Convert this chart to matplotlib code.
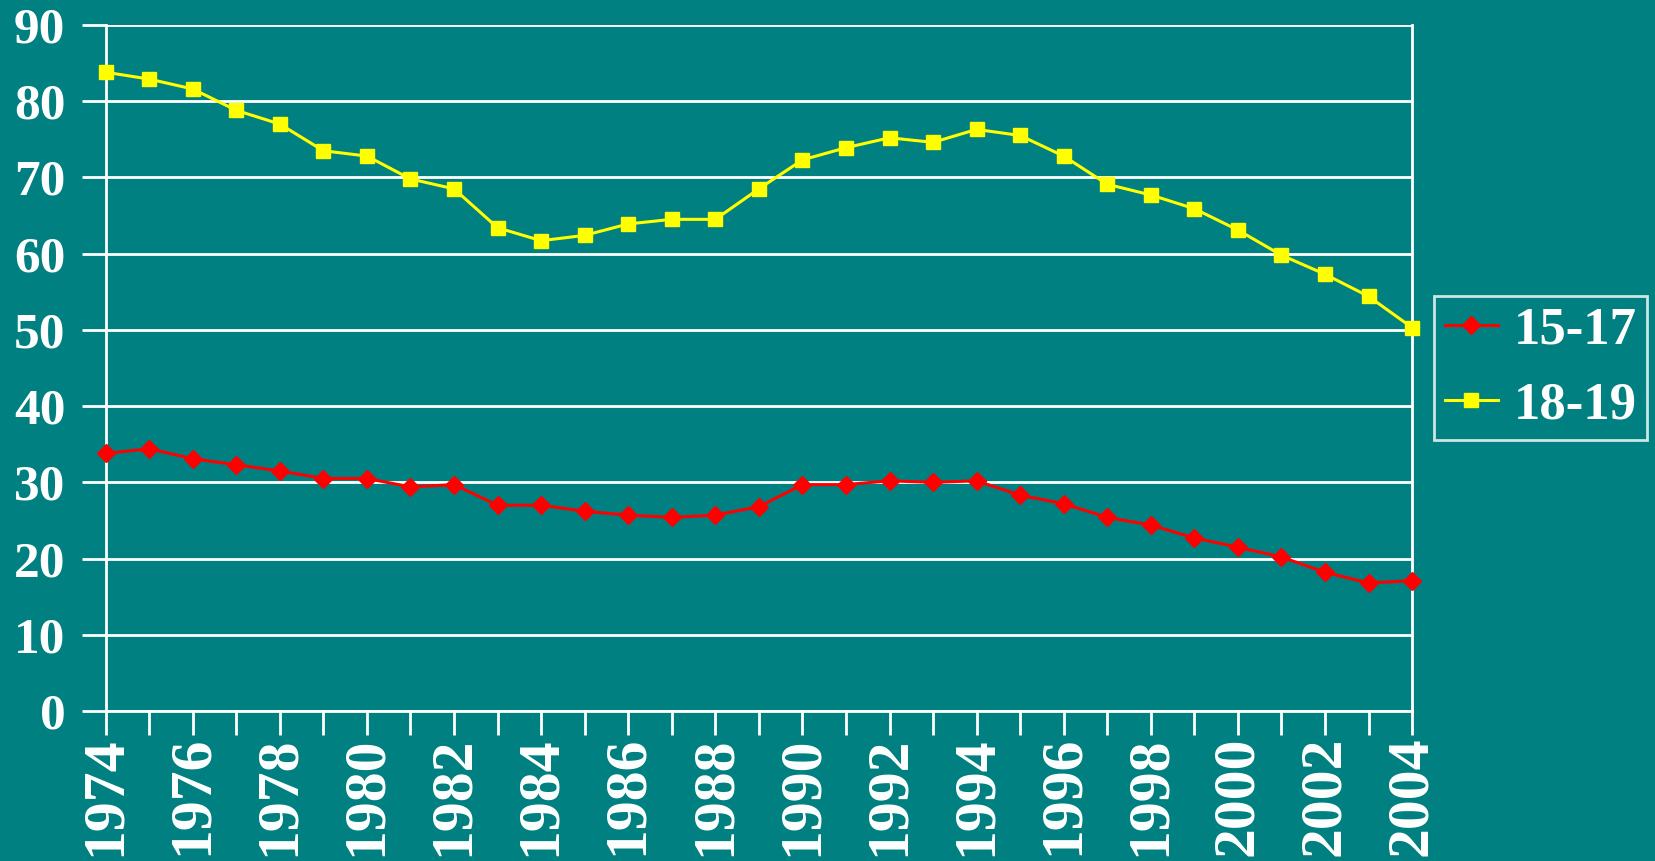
import matplotlib
matplotlib.use("Agg")
import matplotlib.pyplot as plt

years = list(range(1974, 2005))
age_15_17 = [33.8, 34.4, 33.1, 32.3, 31.5, 30.5, 30.5, 29.4, 29.7, 27.0,
             27.0, 26.2, 25.7, 25.4, 25.7, 26.8, 29.7, 29.7, 30.2, 30.0,
             30.2, 28.3, 27.2, 25.4, 24.4, 22.7, 21.5, 20.2, 18.2, 16.8, 17.1]
age_18_19 = [83.8, 82.9, 81.6, 78.8, 77.0, 73.5, 72.8, 69.8, 68.5, 63.4,
             61.7, 62.4, 63.9, 64.5, 64.5, 68.5, 72.3, 73.9, 75.2, 74.6,
             76.3, 75.5, 72.8, 69.1, 67.7, 65.9, 63.1, 59.8, 57.3, 54.4, 50.3]
series_labels = ["15-17", "18-19"]
xtick_years = list(range(1974, 2005, 2))
yticks = list(range(0, 91, 10))

bg = "#008080"
plt.rcParams['font.family'] = ['Liberation Serif', 'DejaVu Serif']
plt.rcParams['font.weight'] = 'bold'

fig = plt.figure(figsize=(16.56, 8.61), dpi=100, facecolor=bg)
ax = fig.add_axes([0.0638, 0.1742, 0.7889, 0.7968], facecolor=bg)

ax.plot(years, age_15_17, color="#FF0000", lw=2.2, marker="D", ms=9.5,
        markeredgecolor="#FF0000", label=series_labels[0], zorder=3, clip_on=False)
ax.plot(years, age_18_19, color="#FFFF00", lw=2.2, marker="s", ms=10,
        markeredgecolor="#FFFF00", label=series_labels[1], zorder=3, clip_on=False)

ax.set_xlim(1974, 2004)
ax.set_ylim(0, 90)
ax.set_yticks(yticks)
ax.set_xticks(years)
ax.set_xticklabels([str(y) if y in xtick_years else "" for y in years])
ax.yaxis.grid(True, color="white", lw=2)
ax.set_axisbelow(True)
for s in ["left", "bottom", "right"]:
    ax.spines[s].set_color("white")
    ax.spines[s].set_linewidth(2)
ax.spines["top"].set_visible(False)

ax.tick_params(axis="y", colors="white", length=17, width=2, labelsize=37, pad=12)
ax.tick_params(axis="x", colors="white", length=17, width=2, labelsize=43,
               labelrotation=90, pad=1)
for lab in ax.get_xticklabels() + ax.get_yticklabels():
    lab.set_fontweight("bold")
    lab.set_color("white")

leg = ax.legend(loc="center left", bbox_to_anchor=(1.017, 0.5), frameon=True,
                fancybox=False, facecolor=bg, edgecolor="white",
                prop={"size": 38, "weight": "bold"}, handlelength=1.0,
                labelspacing=0.5, borderpad=0.2, handletextpad=0.3,
                borderaxespad=0)
leg.get_frame().set_linewidth(2)
for t in leg.get_texts():
    t.set_color("white")

fig.savefig("out.png", dpi=100, facecolor=bg)
